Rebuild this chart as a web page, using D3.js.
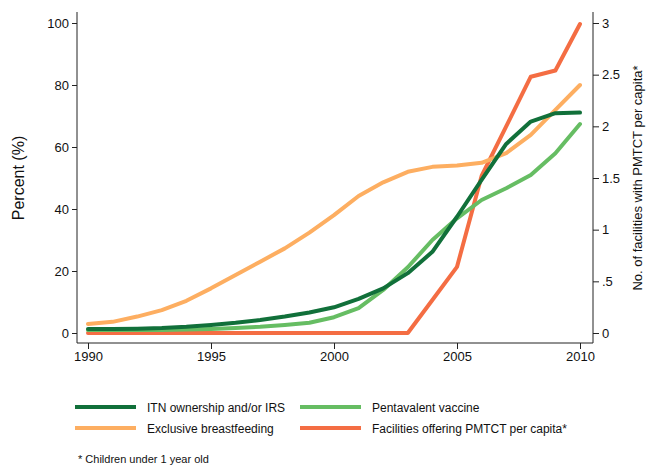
<!DOCTYPE html>
<html><head><meta charset="utf-8">
<script src="https://cdn.jsdelivr.net/npm/d3@7"></script>
<style>body{margin:0;background:#fff}svg{display:block}text{font-family:"Liberation Sans",Arial,sans-serif;fill:#111}</style>
</head><body><svg id="c" width="647" height="466"></svg>
<script>
const years = d3.range(1990, 2011);
const itn = [1.3,1.3,1.4,1.6,2.0,2.6,3.3,4.2,5.3,6.6,8.3,11,14.4,19.3,26.2,37.5,49.4,61,68.2,70.9,71.1];
const pentavalent = [1.0,1.0,1.0,1.0,1.1,1.3,1.6,2.0,2.6,3.3,5.1,8,13.9,21.2,30,37,42.9,46.7,51,58,67.4];
const breastfeeding = [2.9,3.6,5.3,7.4,10.4,14.4,18.7,23,27.3,32.4,38,44.2,48.6,52,53.6,54,54.9,58,63.9,72,80];
const pmtct = [0,0,0,0,0,0,0,0,0,0,0,0,0,0,0.32,0.64,1.52,2.0,2.48,2.54,2.99];
const leftTicks = [0,20,40,60,80,100];
const rightTicks = [0,0.5,1,1.5,2,2.5,3];
const rightTickLabels = ["0",".5","1","1.5","2","2.5","3"];
const xTicks = [1990,1995,2000,2005,2010];
const seriesNames = ["ITN ownership and/or IRS","Pentavalent vaccine","Exclusive breastfeeding","Facilities offering PMTCT per capita*"];
const colors = ["#11703a","#66bd63","#fdae61","#f46d43"];

const svg = d3.select("#c");
const x = d3.scaleLinear().domain([1990,2010]).range([88,580]);
const yL = d3.scaleLinear().domain([0,100]).range([333,23]);
const yR = d3.scaleLinear().domain([0,3]).range([333,23]);

// axes
const gL = svg.append("g").attr("transform","translate(77,0)")
  .call(d3.axisLeft(yL).tickValues(leftTicks).tickSize(5).tickPadding(3));
gL.select(".domain").attr("d","M0,12V343");
const gR = svg.append("g").attr("transform","translate(593,0)")
  .call(d3.axisRight(yR).tickValues(rightTicks).tickFormat((d,i)=>rightTickLabels[i]).tickSize(6).tickPadding(3));
gR.select(".domain").attr("d","M0,12V343");
const gX = svg.append("g").attr("transform","translate(0,343)")
  .call(d3.axisBottom(x).tickValues(xTicks).tickFormat(d3.format("d")).tickSize(6).tickPadding(3));
gX.select(".domain").attr("d","M77,0H593");
svg.selectAll(".tick text").attr("font-size",13).attr("font-family","Liberation Sans, Arial, sans-serif").attr("fill","#111");
svg.selectAll(".domain,.tick line").attr("stroke","#222");

svg.append("text").attr("transform","translate(24,178) rotate(-90)").attr("text-anchor","middle")
  .attr("font-size",16).text("Percent (%)");
svg.append("text").attr("transform","translate(642,178) rotate(-90)").attr("text-anchor","middle")
  .attr("font-size",13).text("No. of facilities with PMTCT per capita*");

const line = (yScale) => d3.line().x((d,i)=>x(years[i])).y(d=>yScale(d));
const data = [
  {v: pmtct, s: yR, c: colors[3]},
  {v: breastfeeding, s: yL, c: colors[2]},
  {v: pentavalent, s: yL, c: colors[1]},
  {v: itn, s: yL, c: colors[0]}
];
// draw order: pmtct first (bottom), then others
svg.append("g").selectAll("path").data(data).join("path")
  .attr("d", d => line(d.s)(d.v))
  .attr("fill","none").attr("stroke", d=>d.c).attr("stroke-width",4)
  .attr("stroke-linejoin","round").attr("stroke-linecap","round");

// legend
const leg = [
  {n: seriesNames[0], c: colors[0], x: 75, y: 407},
  {n: seriesNames[1], c: colors[1], x: 300, y: 407},
  {n: seriesNames[2], c: colors[2], x: 75, y: 428},
  {n: seriesNames[3], c: colors[3], x: 300, y: 428}
];
const lg = svg.append("g").selectAll("g").data(leg).join("g");
lg.append("line").attr("x1",d=>d.x).attr("x2",d=>d.x+61).attr("y1",d=>d.y).attr("y2",d=>d.y)
  .attr("stroke",d=>d.c).attr("stroke-width",4);
lg.append("text").attr("x",d=>d.x+72).attr("y",d=>d.y+4.5).attr("font-size",12).text(d=>d.n);
svg.append("text").attr("x",78).attr("y",463).attr("font-size",11).text("* Children under 1 year old");
</script></body></html>
